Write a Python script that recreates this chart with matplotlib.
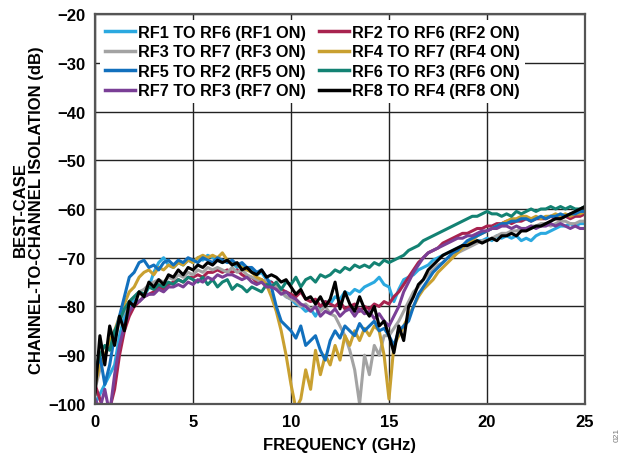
import numpy as np
import matplotlib.pyplot as plt

plt.rcParams['font.family'] = ['Liberation Sans', 'DejaVu Sans']
plt.rcParams['font.weight'] = 'bold'

# sweep points, 0.25 GHz apart
freq = np.linspace(0, 25, 101)

# isolation traces in dB, one row per GHz (n, n.25, n.5, n.75), last value at 25 GHz
rf1_rf6 = [
    -100, -98, -96, -94, -92, -86, -82, -80, -78.5, -79, -78, -76,
    -73, -71, -70, -71.5, -72, -71, -71.5, -70.5, -71, -70, -70.5, -69.5,
    -70, -70.5, -71, -70.5, -71, -72, -71.5, -72.5, -72.5, -73.5, -73, -74.5,
    -75, -76.5, -77, -78, -78.5, -79.5, -80, -81, -80.5, -82, -80, -79,
    -79.5, -78, -78.5, -77, -77.5, -76.5, -77, -76, -75.5, -75, -74, -75.5,
    -76, -79, -76.5, -74.5, -74, -73.5, -72.5, -72, -71.5, -70.5, -70, -69.5,
    -69, -68.5, -68, -67.5, -67.5, -67, -66.5, -66.5, -66, -66.5, -65.5, -66,
    -65.5, -66, -65.5, -66.5, -66, -66.5, -65.5, -65, -65, -64.5, -64, -63.5,
    -63.5, -63, -63.5, -63, -63,
]
rf2_rf6 = [
    -96, -99, -102, -101, -97, -90, -85, -82, -80, -79, -78, -77.5,
    -77, -76, -76.5, -75.5, -75, -74.5, -75, -74, -74, -73.5, -74, -73,
    -73, -72.5, -73, -72.5, -73, -72.5, -73.5, -74, -74, -75, -74.5, -75.5,
    -75, -76, -76.5, -77, -77.5, -78, -77, -78.5, -79, -78.5, -80, -79,
    -79.5, -80, -79, -80.5, -80, -79.5, -81, -80, -80.5, -79.5, -80, -79,
    -79.5, -78, -77, -75.5, -74, -72.5, -71, -70, -69, -68.5, -68, -67,
    -66.5, -66, -65.5, -65, -65, -64.5, -64, -64, -63.5, -63.5, -63, -63,
    -62.5, -63, -62.5, -62.5, -62, -62.5, -62, -62, -62, -61.5, -62, -62,
    -61.5, -62, -61.5, -61.5, -61,
]
rf3_rf7 = [
    -97, -93, -90, -88, -87, -83, -81, -79, -78, -77, -76.5, -75.5,
    -75, -74.5, -75, -74, -74.5, -73.5, -74, -73, -73.5, -72.5, -73, -72,
    -72.5, -72, -72.5, -73, -72, -73, -72.5, -73.5, -74, -74.5, -75, -74.5,
    -75.5, -76, -77, -78, -78.5, -79, -80, -79.5, -80.5, -80, -81, -80,
    -81.5, -82, -84, -86, -89, -93, -100, -90, -94, -88, -90, -86,
    -86, -84.5, -83, -81, -79, -77, -76, -74.5, -73.5, -72.5, -71.5, -71,
    -70, -69.5, -69, -68.5, -68, -67.5, -67, -66.5, -66.5, -66, -65.5, -65,
    -65, -64.5, -64.5, -64, -64, -63.5, -63.5, -63, -63, -63.5, -63, -62.5,
    -62.5, -63, -63, -62.5, -62.5,
]
rf4_rf7 = [
    -96, -92, -90, -87, -85, -82, -79.5, -77, -76, -74, -73, -72.5,
    -73.5, -72, -72.5, -71.5, -72, -71, -71.5, -70.5, -71, -70, -69.5, -70,
    -69.5, -70, -69, -70.5, -71, -71.5, -72, -72.5, -73, -74, -74.5, -75.5,
    -78, -81, -85, -90, -96, -101, -99, -93, -97, -89, -94, -90,
    -92, -88, -91, -86, -88, -85, -87, -84.5, -86, -84, -85, -90,
    -99, -88, -86, -84, -82, -80, -78, -76.5, -75.5, -74.5, -73, -72,
    -71, -70, -69, -68, -67, -66.5, -65.5, -65, -64.5, -64, -63.5, -63,
    -62.5, -62, -62, -61.5, -61.5, -62, -61.5, -62, -61.5, -61.5, -61, -61.5,
    -61, -61.5, -61, -61, -60.5,
]
rf5_rf2 = [
    -94, -90, -96, -92, -86, -82, -78, -74, -73, -71, -70.5, -72,
    -71.5, -72.5, -71, -70.5, -71.5, -70.5, -71, -70, -70.5, -71, -70, -70.5,
    -71, -70, -70.5, -71, -70.5, -71.5, -71, -72, -72, -73, -72.5, -74,
    -76, -80, -83, -84, -85, -86.5, -84, -88, -87, -86, -89, -91,
    -87, -85, -86.5, -84, -85, -86, -83.5, -85, -84, -83, -85, -84.5,
    -86, -88, -85, -84, -83, -80, -77.5, -76, -74.5, -73, -72, -71,
    -70, -69, -68.5, -67.5, -66.5, -66, -65.5, -65, -64.5, -64, -63.5, -63,
    -63, -62.5, -62.5, -62, -62, -62.5, -62, -61.5, -62, -61.5, -61.5, -61,
    -61.5, -61, -61, -60.5, -60.5,
]
rf6_rf3 = [
    -93, -90, -88, -89, -85, -83, -80.5, -79, -78, -77, -77.5, -76,
    -76.5, -75.5, -76, -75, -75.5, -74.5, -75, -74, -74.5, -75, -74, -75.5,
    -74.5, -76, -75, -74.5, -76.5, -75.5, -76, -77, -76, -76.5, -77, -75.5,
    -76, -75, -76.5, -75, -75.5, -74, -76, -74.5, -74, -75, -73.5, -74,
    -73.5, -72.5, -73, -72, -72.5, -71.5, -72, -71.5, -72, -71, -71.5, -70.5,
    -71, -70.5, -70, -69.5, -68.5, -68, -67.5, -66.5, -66, -65.5, -65, -64.5,
    -64, -63.5, -63, -62.5, -62, -61.5, -61.5, -61, -60.5, -61, -61, -61.5,
    -61, -61.5, -60.5, -61, -60.5, -60, -60.5, -60, -60, -59.5, -60, -59.5,
    -60, -59.5, -60, -60, -59.5,
]
rf7_rf3 = [
    -99, -101, -97, -102, -94, -88, -84, -81, -79.5, -79, -78, -77.5,
    -77.5, -76.5, -77, -76, -76, -75.5, -76, -75, -75.5, -74.5, -75, -74,
    -74.5, -73.5, -74, -73.5, -73.5, -74, -74.5, -74, -75, -75.5, -75, -76,
    -76, -76.5, -77.5, -77, -78, -78.5, -79.5, -80, -81, -80, -82, -81,
    -81.5, -80.5, -82, -81, -80.5, -82, -80.5, -81.5, -81, -82.5, -81.5, -83,
    -84, -82, -80, -77, -75, -73, -71.5, -70, -69, -68.5, -68, -67.5,
    -67, -66.5, -66, -66, -65.5, -65.5, -65, -64.5, -64.5, -64, -64, -63.5,
    -63.5, -64, -63.5, -64, -64, -63.5, -64, -63.5, -63.5, -63, -63.5, -63,
    -63.5, -64, -63.5, -64, -64,
]
rf8_rf4 = [
    -98, -86, -92, -84, -88, -82, -85, -79, -80, -77, -78, -75,
    -76, -74.5, -75.5, -73.5, -74, -72.5, -73.5, -72, -72.5, -71.5, -72, -71,
    -71.5, -70.5, -71, -70.5, -71.5, -71, -72.5, -72, -73, -73.5, -72.5, -74,
    -73.5, -74, -75, -74.5, -76, -77.5, -76.5, -78.5, -78, -79.5, -78, -80,
    -78.5, -75, -80.5, -77, -79.5, -81, -78, -80.5, -82, -80, -84, -83,
    -86, -89.5, -84, -87, -80, -78, -75.5, -74.5, -72.5, -71.5, -70.5, -69.5,
    -69, -68.5, -68, -67.5, -67.5, -67, -66.5, -67, -66.5, -66, -66.5, -65.5,
    -65.5, -65, -65.5, -64.5, -64.5, -64, -63.5, -63.5, -63, -62.5, -62, -62,
    -61.5, -61, -60.5, -60, -59.5,
]

traces = [rf1_rf6, rf2_rf6, rf3_rf7, rf4_rf7, rf5_rf2, rf6_rf3, rf7_rf3, rf8_rf4]
labels = ["RF1 TO RF6 (RF1 ON)", "RF2 TO RF6 (RF2 ON)",
          "RF3 TO RF7 (RF3 ON)", "RF4 TO RF7 (RF4 ON)",
          "RF5 TO RF2 (RF5 ON)", "RF6 TO RF3 (RF6 ON)",
          "RF7 TO RF3 (RF7 ON)", "RF8 TO RF4 (RF8 ON)"]
colors = ["#2BA9E0", "#A8234F", "#A3A3A3", "#C9A030",
          "#1270BD", "#138273", "#7A3F96", "#000000"]

fig = plt.figure(figsize=(6.27, 4.56), dpi=100)
ax = fig.add_axes([0.1515, 0.112, 0.7815, 0.855])

for y, lab, c in zip(traces, labels, colors):
    ax.plot(freq, y, color=c, lw=2.2, label=lab)

ax.set_xlim(0, 25)
ax.set_ylim(-100, -20)
ax.set_xticks([0, 5, 10, 15, 20, 25])
ax.set_yticks(np.arange(-100, -19, 10))
ax.grid(True, color='#222222', lw=1.0)
ax.set_axisbelow(True)
ax.tick_params(length=0, labelsize=12, pad=7)
for s in ax.spines.values():
    s.set_color('#555555')
    s.set_linewidth(1.6)

ax.set_xlabel("FREQUENCY (GHz)", fontsize=12, fontweight='bold', labelpad=6)
ax.set_ylabel("BEST-CASE\nCHANNEL-TO-CHANNEL ISOLATION (dB)", fontsize=12,
              fontweight='bold', labelpad=3, linespacing=1.1)

# legend reads across rows: odd channels left, even channels right
handles, names = ax.get_legend_handles_labels()
order = [0, 2, 4, 6, 1, 3, 5, 7]
leg = ax.legend([handles[i] for i in order], [names[i] for i in order],
                loc='upper left', bbox_to_anchor=(0.01, 0.985), ncol=2,
                fontsize=11.7, frameon=True, framealpha=1, edgecolor='none',
                fancybox=False, handlelength=1.85, handletextpad=0.2,
                columnspacing=0.8, labelspacing=0.28, borderpad=0.3,
                borderaxespad=0)
for h in leg.get_lines():
    h.set_linewidth(2.5)

fig.text(0.978, 0.035, "021", rotation=90, fontsize=6, color='#777777',
         fontweight='normal')

fig.savefig("out.png", dpi=100)
